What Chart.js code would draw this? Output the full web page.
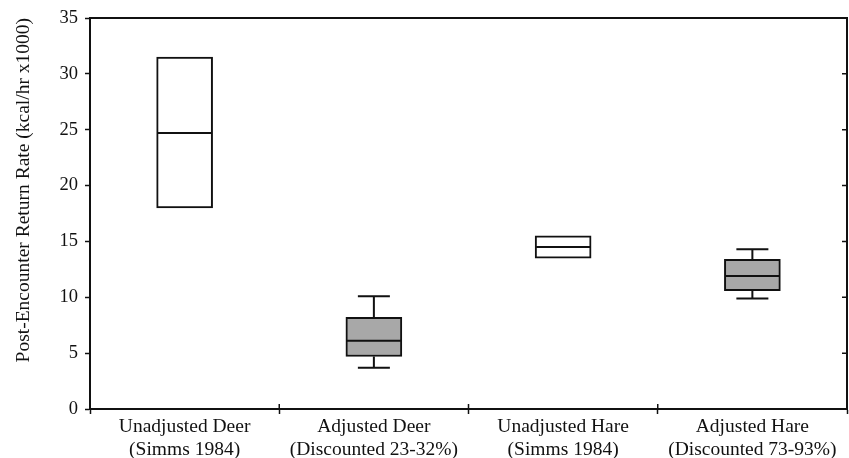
<!DOCTYPE html>
<html>
<head>
<meta charset="utf-8">
<script src="https://cdn.jsdelivr.net/npm/chart.js@4/dist/chart.umd.min.js"></script>
<style>
  html, body { margin: 0; padding: 0; background: #ffffff; }
  #wrap { width: 849px; height: 458px; }
</style>
</head>
<body>
<div id="wrap"><canvas id="c" width="849" height="458"></canvas></div>
<script>
// Box-plot summary of post-encounter return rates
const categories = [
  ["Unadjusted Deer", "(Simms 1984)"],
  ["Adjusted Deer", "(Discounted 23-32%)"],
  ["Unadjusted Hare", "(Simms 1984)"],
  ["Adjusted Hare", "(Discounted 73-93%)"]
];
const boxLow      = [18.0, 4.7, 13.5, 10.6];
const boxHigh     = [31.5, 8.2, 15.5, 13.4];
const medians     = [24.7, 6.1, 14.5, 11.9];
const whiskerLow  = [null, 3.7, null, 9.9];
const whiskerHigh = [null, 10.1, null, 14.3];
const yTicks      = [0, 5, 10, 15, 20, 25, 30, 35];
const yTitle      = "Post-Encounter Return Rate (kcal/hr x1000)";

const boxFills = ['#ffffff', '#a8a8a8', '#ffffff', '#a8a8a8'];
const ink = '#111111';
const serif = "'Liberation Serif', 'Times New Roman', serif";

// medians and whiskers, placed through the chart's own scales
const boxDetails = {
  id: 'boxDetails',
  afterDatasetsDraw(chart) {
    const ctx = chart.ctx;
    const y = chart.scales.y;
    const meta = chart.getDatasetMeta(0);
    ctx.save();
    ctx.strokeStyle = ink;
    ctx.lineWidth = 2;
    meta.data.forEach((bar, i) => {
      const half = bar.width / 2;
      const ym = y.getPixelForValue(medians[i]);
      ctx.beginPath();
      ctx.moveTo(bar.x - half + 1, ym);
      ctx.lineTo(bar.x + half - 1, ym);
      ctx.stroke();
      const cap = 16;
      if (whiskerHigh[i] != null) {
        const yt = y.getPixelForValue(boxHigh[i]);
        const yw = y.getPixelForValue(whiskerHigh[i]);
        ctx.beginPath();
        ctx.moveTo(bar.x, yt); ctx.lineTo(bar.x, yw);
        ctx.moveTo(bar.x - cap, yw); ctx.lineTo(bar.x + cap, yw);
        ctx.stroke();
      }
      if (whiskerLow[i] != null) {
        const yb = y.getPixelForValue(boxLow[i]);
        const yw = y.getPixelForValue(whiskerLow[i]);
        ctx.beginPath();
        ctx.moveTo(bar.x, yb); ctx.lineTo(bar.x, yw);
        ctx.moveTo(bar.x - cap, yw); ctx.lineTo(bar.x + cap, yw);
        ctx.stroke();
      }
    });
    ctx.restore();
  }
};

// closed frame: top and right spines, inward ticks on the right and bottom
const frame = {
  id: 'frame',
  afterDraw(chart) {
    const ctx = chart.ctx;
    const a = chart.chartArea;
    const y = chart.scales.y;
    const x = chart.scales.x;
    ctx.save();
    ctx.strokeStyle = ink;
    ctx.lineWidth = 2;
    ctx.beginPath();
    ctx.moveTo(a.left - 1, a.top);
    ctx.lineTo(a.right, a.top);
    ctx.lineTo(a.right, a.bottom + 1);
    ctx.stroke();
    ctx.lineWidth = 1.5;
    ctx.beginPath();
    yTicks.forEach(v => {
      const py = y.getPixelForValue(v);
      if (v === 0 || v === 35) return;
      ctx.moveTo(a.right - 5, py);
      ctx.lineTo(a.right, py);
    });
    for (let i = 1; i < categories.length; i++) {
      const px = (x.getPixelForValue(i - 1) + x.getPixelForValue(i)) / 2;
      ctx.moveTo(px, a.bottom - 5);
      ctx.lineTo(px, a.bottom);
    }
    ctx.stroke();
    ctx.restore();
  }
};

new Chart(document.getElementById('c'), {
  type: 'bar',
  data: {
    labels: categories,
    datasets: [{
      data: boxLow.map((lo, i) => [lo, boxHigh[i]]),
      backgroundColor: boxFills,
      borderColor: ink,
      borderWidth: 2,
      borderSkipped: false,
      barThickness: 56
    }]
  },
  options: {
    responsive: false,
    animation: false,
    devicePixelRatio: 1,
    layout: { padding: { top: 18, right: 2, left: 0, bottom: 0 } },
    plugins: { legend: { display: false }, tooltip: { enabled: false }, title: { display: false } },
    scales: {
      x: {
        offset: true,
        grid: { display: true, offset: true, drawOnChartArea: false, tickLength: 5, tickWidth: 1.5, tickColor: ink },
        border: { display: true, color: ink, width: 2 },
        ticks: { color: ink, padding: 1, font: { family: serif, size: 19.5, lineHeight: 1.2 }, maxRotation: 0, autoSkip: false },
        afterFit(s) { s.height = 49; }
      },
      y: {
        min: 0,
        max: 35,
        afterBuildTicks(s) { s.ticks = yTicks.map(v => ({ value: v })); },
        grid: { display: true, drawOnChartArea: false, tickLength: 5, tickWidth: 1.5, tickColor: ink },
        border: { display: true, color: ink, width: 2 },
        ticks: { color: ink, padding: 7, font: { family: serif, size: 18.5, lineHeight: 0.6 } },
        title: {
          display: true,
          text: yTitle,
          align: 'end',
          color: ink,
          font: { family: serif, size: 19.5 },
          padding: { top: 12, bottom: 0 }
        },
        afterFit(s) { s.width = 90; }
      }
    }
  },
  plugins: [boxDetails, frame]
});
</script>
</body>
</html>
